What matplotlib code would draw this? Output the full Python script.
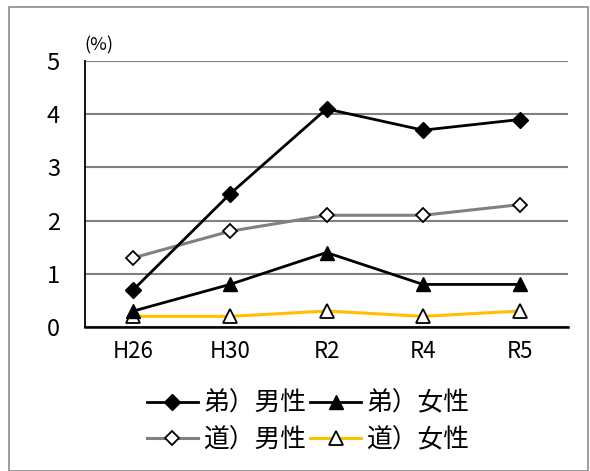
import matplotlib
matplotlib.use("Agg")
import matplotlib.pyplot as plt
from matplotlib.patches import Rectangle

categories = ["H26", "H30", "R2", "R4", "R5"]
dai_male = [0.7, 2.5, 4.1, 3.7, 3.9]
dai_female = [0.3, 0.8, 1.4, 0.8, 0.8]
do_male = [1.3, 1.8, 2.1, 2.1, 2.3]
do_female = [0.2, 0.2, 0.3, 0.2, 0.3]
labels = ["弟）男性", "弟）女性", "道）男性", "道）女性"]
yticks = [0, 1, 2, 3, 4, 5]

plt.rcParams['font.family'] = ['Noto Sans CJK JP', 'DejaVu Sans']

W, H = 590, 471
fig = plt.figure(figsize=(W / 100, H / 100), dpi=100)
fig.patches.append(Rectangle((9 / W, 0), (W - 11) / W, (H - 7) / H, transform=fig.transFigure,
                             fill=False, edgecolor="#8c8c8c", linewidth=1.2))

ax = fig.add_axes([85 / W, 1 - 327 / H, (568 - 85) / W, (327 - 61) / H])
x = list(range(len(categories)))

h1, = ax.plot(x, dai_male, color="black", lw=2.0, marker="D", ms=8.5, mfc="black", mec="black", label=labels[0], zorder=5)
h2, = ax.plot(x, dai_female, color="black", lw=2.0, marker="^", ms=10, mfc="black", mec="black", label=labels[1], zorder=5)
h3, = ax.plot(x, do_male, color="#808080", lw=2.2, marker="D", ms=7.5, mfc="white", mec="black", mew=1.3, label=labels[2], zorder=4)
h4, = ax.plot(x, do_female, color="#FFC000", lw=2.2, marker="^", ms=10, mfc="white", mec="black", mew=1.3, label=labels[3], zorder=4)

ax.set_xlim(-0.5, len(categories) - 0.5)
ax.set_ylim(0, 5)
ax.set_yticks(yticks)
ax.set_yticklabels([str(v) for v in yticks], fontsize=17)
ax.set_xticks(x)
ax.set_xticklabels(categories, fontsize=16)
ax.tick_params(axis="x", length=0, pad=9)
ax.tick_params(axis="y", length=0, pad=18)
ax.grid(axis="y", color="#808080", lw=1.5)
ax.set_axisbelow(True)
for s in ["top", "right"]:
    ax.spines[s].set_visible(False)
ax.spines["left"].set_color("black")
ax.spines["bottom"].set_color("black")
ax.spines["left"].set_linewidth(1.3)
ax.spines["bottom"].set_linewidth(1.8)

fig.text(84 / W, 1 - 45 / H, "(%)", fontsize=13, ha="left", va="center")

leg = fig.legend([h1, h3, h2, h4], [labels[0], labels[2], labels[1], labels[3]],
                 loc="center", bbox_to_anchor=(308 / W, 1 - 422 / H), ncol=2, frameon=False,
                 fontsize=18.5, handlelength=2.0, columnspacing=0.15, handletextpad=0.2, labelspacing=0.4)

fig.savefig("out.png", dpi=100)
